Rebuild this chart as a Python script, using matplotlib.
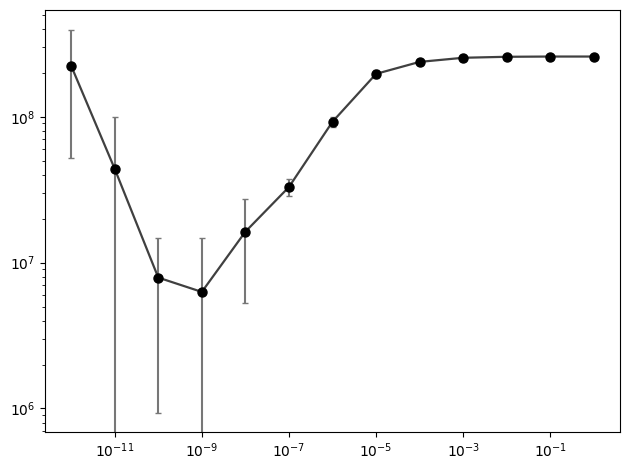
import matplotlib
matplotlib.use("Agg")
import matplotlib.pyplot as plt
import numpy as np

x = [1e-12, 1e-11, 1e-10, 1e-9, 1e-8, 1e-7, 1e-6, 1e-5, 1e-4, 1e-3, 1e-2, 1e-1, 1e0]
y = [2.24e8, 4.4e7, 7.9e6, 6.3e6, 1.63e7, 3.3e7, 9.25e7, 1.97e8, 2.38e8, 2.54e8, 2.58e8, 2.59e8, 2.59e8]
yerr = [1.72e8, 5.6e7, 6.97e6, 8.4e6, 1.1e7, 4.2e6, 7e6, 1.2e7, 1.2e7, 1.2e7, 8e6, 7e6, 7e6]

fig, ax = plt.subplots(figsize=(6.3, 4.7), dpi=100)
fig.subplots_adjust(left=45/630, right=620/630, top=1-10/470, bottom=1-432/470)
ax.errorbar(x, y, yerr=yerr, fmt='none', ecolor='#777777', elinewidth=1.5, capsize=2.3, capthick=1.0)
ax.plot(x, y, '-', color='#404040', linewidth=1.6)
ax.plot(x, y, 'o', color='black', markersize=6.5)
ax.set_xscale('log')
ax.set_yscale('log')
ax.set_ylim(6.9e5, 5.4e8)
fig.savefig('out.png')
